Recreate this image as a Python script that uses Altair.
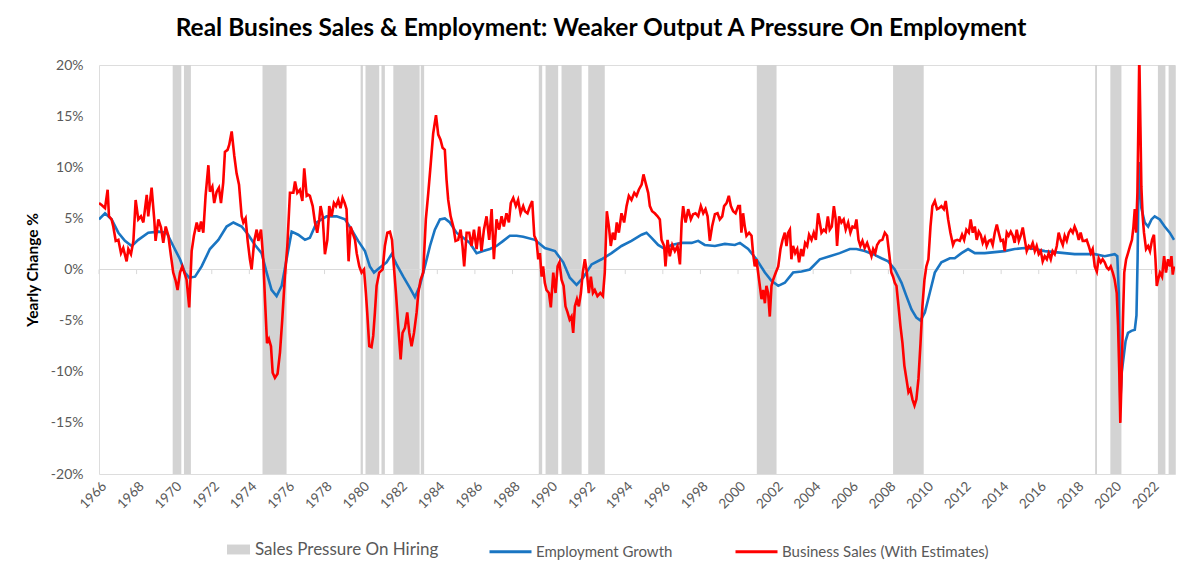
import altair as alt
import pandas as pd

TITLE = "Real Busines Sales & Employment: Weaker Output A Pressure On Employment"

# ---- Business Sales (With Estimates), yearly change %
sales_year = [
    1966.00, 1966.14, 1966.32, 1966.46, 1966.53, 1966.67, 1966.76, 1966.89, 1967.03, 1967.17,
    1967.29, 1967.47, 1967.56, 1967.70, 1967.83, 1967.95, 1968.09, 1968.23, 1968.36, 1968.54,
    1968.62, 1968.80, 1968.94, 1969.01, 1969.16, 1969.30, 1969.42, 1969.55, 1969.69, 1969.83,
    1969.95, 1970.08, 1970.18, 1970.31, 1970.43, 1970.54, 1970.66, 1970.80, 1970.93, 1971.05,
    1971.20, 1971.32, 1971.43, 1971.55, 1971.67, 1971.82, 1971.90, 1972.03, 1972.13, 1972.26,
    1972.38, 1972.49, 1972.61, 1972.70, 1972.84, 1972.93, 1973.06, 1973.20, 1973.32, 1973.45,
    1973.59, 1973.68, 1973.80, 1973.91, 1974.03, 1974.12, 1974.26, 1974.39, 1974.48, 1974.62,
    1974.74, 1974.83, 1974.94, 1975.04, 1975.15, 1975.24, 1975.36, 1975.50, 1975.63, 1975.75,
    1975.89, 1976.02, 1976.16, 1976.34, 1976.43, 1976.55, 1976.69, 1976.82, 1976.92, 1977.05,
    1977.14, 1977.22, 1977.37, 1977.49, 1977.61, 1977.72, 1977.79, 1977.90, 1978.02, 1978.15,
    1978.25, 1978.38, 1978.50, 1978.61, 1978.73, 1978.85, 1978.96, 1979.07, 1979.17, 1979.28,
    1979.39, 1979.49, 1979.62, 1979.71, 1979.85, 1979.97, 1980.10, 1980.20, 1980.27, 1980.38,
    1980.50, 1980.59, 1980.68, 1980.77, 1980.91, 1981.09, 1981.21, 1981.34, 1981.48, 1981.59,
    1981.69, 1981.80, 1981.92, 1982.05, 1982.15, 1982.28, 1982.40, 1982.51, 1982.63, 1982.76,
    1982.90, 1982.99, 1983.11, 1983.25, 1983.39, 1983.52, 1983.64, 1983.78, 1983.93, 1984.05,
    1984.17, 1984.28, 1984.40, 1984.49, 1984.58, 1984.71, 1984.85, 1984.97, 1985.11, 1985.24,
    1985.34, 1985.43, 1985.56, 1985.70, 1985.82, 1985.95, 1986.09, 1986.23, 1986.35, 1986.48,
    1986.62, 1986.76, 1986.89, 1987.01, 1987.15, 1987.29, 1987.42, 1987.54, 1987.68, 1987.81,
    1987.91, 1988.04, 1988.18, 1988.30, 1988.43, 1988.57, 1988.66, 1988.80, 1988.93, 1989.05,
    1989.16, 1989.28, 1989.37, 1989.46, 1989.55, 1989.63, 1989.72, 1989.81, 1989.94, 1990.04,
    1990.17, 1990.29, 1990.40, 1990.50, 1990.61, 1990.72, 1990.82, 1990.93, 1991.04, 1991.14,
    1991.23, 1991.32, 1991.43, 1991.53, 1991.64, 1991.74, 1991.85, 1991.96, 1992.06, 1992.17,
    1992.28, 1992.38, 1992.52, 1992.67, 1992.81, 1992.91, 1993.02, 1993.13, 1993.23, 1993.34,
    1993.45, 1993.55, 1993.66, 1993.80, 1993.94, 1994.07, 1994.19, 1994.33, 1994.48, 1994.60,
    1994.72, 1994.87, 1994.97, 1995.08, 1995.22, 1995.31, 1995.43, 1995.57, 1995.72, 1995.84,
    1995.93, 1996.07, 1996.14, 1996.25, 1996.37, 1996.50, 1996.64, 1996.78, 1996.91, 1997.00,
    1997.08, 1997.21, 1997.35, 1997.49, 1997.61, 1997.74, 1997.88, 1998.02, 1998.15, 1998.27,
    1998.38, 1998.50, 1998.62, 1998.77, 1998.91, 1999.03, 1999.16, 1999.26, 1999.39, 1999.51,
    1999.62, 1999.74, 1999.87, 2000.01, 2000.10, 2000.18, 2000.27, 2000.36, 2000.45, 2000.59,
    2000.72, 2000.80, 2000.89, 2000.98, 2001.07, 2001.16, 2001.25, 2001.34, 2001.43, 2001.51,
    2001.60, 2001.69, 2001.78, 2001.87, 2002.01, 2002.14, 2002.26, 2002.37, 2002.49, 2002.58,
    2002.67, 2002.76, 2002.84, 2002.93, 2003.04, 2003.15, 2003.25, 2003.36, 2003.46, 2003.57,
    2003.68, 2003.78, 2003.91, 2004.03, 2004.14, 2004.26, 2004.35, 2004.44, 2004.56, 2004.67,
    2004.78, 2004.88, 2004.99, 2005.10, 2005.20, 2005.27, 2005.38, 2005.50, 2005.62, 2005.73,
    2005.86, 2005.98, 2006.09, 2006.21, 2006.30, 2006.41, 2006.51, 2006.62, 2006.74, 2006.87,
    2006.98, 2007.10, 2007.19, 2007.30, 2007.40, 2007.54, 2007.68, 2007.81, 2007.93, 2008.04,
    2008.16, 2008.25, 2008.34, 2008.43, 2008.54, 2008.64, 2008.75, 2008.85, 2008.96, 2009.07,
    2009.17, 2009.28, 2009.39, 2009.49, 2009.60, 2009.71, 2009.81, 2009.92, 2010.02, 2010.13,
    2010.24, 2010.34, 2010.47, 2010.59, 2010.70, 2010.82, 2010.95, 2011.05, 2011.18, 2011.30,
    2011.44, 2011.53, 2011.67, 2011.80, 2011.92, 2012.03, 2012.15, 2012.28, 2012.38, 2012.49,
    2012.60, 2012.70, 2012.81, 2012.91, 2013.02, 2013.13, 2013.23, 2013.34, 2013.45, 2013.55,
    2013.66, 2013.77, 2013.87, 2013.98, 2014.09, 2014.19, 2014.30, 2014.40, 2014.51, 2014.62,
    2014.72, 2014.83, 2014.94, 2015.04, 2015.15, 2015.26, 2015.36, 2015.47, 2015.57, 2015.68,
    2015.79, 2015.89, 2016.00, 2016.11, 2016.21, 2016.32, 2016.43, 2016.53, 2016.64, 2016.74,
    2016.85, 2016.96, 2017.06, 2017.17, 2017.28, 2017.38, 2017.49, 2017.60, 2017.70, 2017.81,
    2017.91, 2018.02, 2018.13, 2018.23, 2018.34, 2018.45, 2018.55, 2018.66, 2018.77, 2018.87,
    2018.98, 2019.09, 2019.19, 2019.30, 2019.40, 2019.51, 2019.62, 2019.72, 2019.83, 2019.94,
    2020.04, 2020.15, 2020.22, 2020.29, 2020.34, 2020.41, 2020.48, 2020.55, 2020.65, 2020.75,
    2020.86, 2020.96, 2021.04, 2021.11, 2021.18, 2021.25, 2021.30, 2021.35, 2021.41, 2021.46,
    2021.53, 2021.60, 2021.71, 2021.82, 2021.92, 2022.03, 2022.13, 2022.21, 2022.28, 2022.35,
    2022.45, 2022.56, 2022.67, 2022.77, 2022.88, 2022.99, 2023.06, 2023.13, 2023.20,
]
sales_value = [
    6.5, 6.3, 6.0, 7.8, 5.2, 4.9, 4.2, 2.8, 2.9, 1.6,
    2.1, 0.8, 2.0, 1.5, 2.8, 6.8, 4.9, 5.2, 4.6, 7.3,
    5.2, 8.0, 4.9, 2.8, 4.9, 4.1, 2.6, 4.2, 3.3, 1.3,
    -0.3, -1.1, -2.0, -0.3, 0.3, -0.3, -1.0, -3.7, 1.8, 3.3,
    4.6, 3.7, 4.7, 3.6, 7.2, 10.2, 7.6, 8.1, 6.5, 7.6,
    8.0, 6.5, 8.5, 11.5, 11.7, 12.2, 13.5, 11.1, 9.4, 8.3,
    5.2, 4.6, 5.0, 2.8, 1.0, 0.0, 2.8, 3.9, 2.8, 3.9,
    1.0, -2.9, -7.2, -6.8, -7.5, -10.1, -10.6, -10.2, -8.1, -4.9,
    -0.7, 2.3, 7.5, 7.5, 8.6, 7.5, 7.8, 6.7, 9.9, 7.2,
    7.3, 7.2, 6.2, 4.6, 3.6, 4.9, 6.2, 5.2, 1.5, 2.9,
    6.2, 5.2, 6.5, 6.2, 6.8, 6.0, 7.0, 6.5, 5.9, 0.8,
    4.2, 3.6, 2.9, 1.6, 0.3, -0.3, 0.0, -2.3, -4.2, -7.5,
    -7.6, -6.5, -4.2, -1.6, -0.3, 0.0, 2.3, 3.6, 3.7, 2.9,
    0.3, -2.3, -5.5, -8.8, -6.2, -5.7, -4.2, -6.2, -7.5, -6.2,
    -4.2, -2.3, -1.0, -0.3, 4.9, 7.5, 10.1, 13.3, 15.1, 13.2,
    12.7, 11.9, 11.7, 8.8, 6.8, 5.2, 4.2, 2.8, 2.9, 3.9,
    2.3, 0.3, 3.6, 3.6, 2.3, 3.9, 2.0, 4.2, 1.8, 3.9,
    5.2, 2.9, 5.9, 1.0, 4.9, 3.9, 5.2, 4.2, 5.5, 4.6,
    6.5, 7.0, 6.2, 6.8, 5.5, 6.2, 5.7, 5.5, 6.2, 6.7,
    3.3, 2.8, 1.0, 1.6, -0.7, 0.3, -1.3, -2.0, -2.3, -3.7,
    -0.3, -2.3, 0.3, 0.7, -1.0, -1.6, -3.6, -4.2, -4.9, -4.6,
    -6.2, -3.6, -2.9, -3.6, -2.3, -0.3, 1.0, -0.3, -2.3, -0.7,
    -2.3, -2.0, -2.6, -2.3, -2.6, -0.3, 5.7, 4.2, 2.3, 3.6,
    2.9, 4.6, 3.6, 5.5, 4.6, 6.2, 7.2, 6.8, 7.5, 7.2,
    7.8, 8.3, 9.3, 8.5, 7.5, 6.2, 5.7, 5.5, 5.2, 4.9,
    2.9, 2.3, 0.3, 2.9, 1.3, 2.4, 1.8, 2.3, 0.5, 4.6,
    6.2, 4.6, 5.9, 4.9, 5.4, 5.5, 5.2, 6.2, 5.5, 5.9,
    5.2, 2.8, 4.2, 5.4, 5.5, 4.9, 5.2, 6.2, 6.5, 7.2,
    6.2, 5.7, 5.5, 6.2, 6.2, 3.6, 5.5, 4.2, 3.3, 3.6,
    3.3, 1.6, 0.3, 1.0, -0.3, -1.6, -2.9, -2.0, -3.3, -1.6,
    -2.3, -4.6, -1.6, -1.0, -0.3, 0.3, 2.0, 2.9, 3.6, 2.3,
    3.6, 3.9, 1.0, 2.3, 1.6, 2.0, 0.7, 2.0, 1.3, 2.6,
    2.3, 3.4, 2.9, 3.6, 2.9, 5.5, 4.6, 3.6, 3.9, 3.7,
    5.2, 3.9, 4.2, 6.2, 4.9, 2.3, 5.2, 4.6, 4.9, 3.9,
    4.6, 3.6, 4.2, 4.1, 4.9, 2.9, 2.3, 2.8, 2.1, 2.6,
    2.0, 1.3, 2.0, 1.6, 2.4, 2.8, 2.9, 3.6, 3.3, 1.6,
    -0.3, -0.7, -1.3, -1.6, -3.6, -5.5, -7.2, -9.4, -10.7, -12.0,
    -11.7, -12.7, -13.3, -12.7, -10.7, -7.2, -3.6, -1.0, 0.3, 1.0,
    4.2, 6.2, 6.7, 5.9, 6.0, 6.2, 5.9, 6.7, 4.9, 3.6,
    2.4, 2.8, 2.9, 2.8, 3.4, 2.9, 3.9, 3.6, 4.9, 3.6,
    4.2, 2.9, 3.7, 3.4, 2.6, 3.1, 2.3, 2.8, 2.9, 2.4,
    3.6, 4.4, 3.6, 2.8, 2.9, 1.8, 3.6, 3.3, 3.7, 3.3,
    2.6, 3.9, 2.8, 3.3, 4.1, 2.9, 1.8, 2.3, 2.1, 2.6,
    1.8, 2.3, 1.5, 1.8, 0.8, 1.3, 1.0, 1.6, 1.0, 1.8,
    1.5, 2.3, 3.6, 2.9, 2.4, 3.3, 2.8, 3.6, 3.9, 3.6,
    4.2, 3.7, 2.9, 3.6, 2.8, 2.8, 2.9, 2.3, 1.6, 2.0,
    0.3, -0.2, 1.1, 0.7, 1.0, 0.7, 0.2, 0.0, 0.3, -0.3,
    -1.0, -2.3, -5.5, -10.4, -15.0, -10.4, -4.9, -0.3, 1.0, 1.6,
    2.3, 2.9, 4.2, 5.9, 3.6, 7.5, 14.0, 21.0, 14.0, 8.1,
    5.2, 3.6, 2.0, 2.3, 1.8, 2.9, 3.4, 1.0, -1.6, -1.0,
    -0.3, -0.7, 1.3, -0.3, 1.0, 0.3, 1.3, -0.5, 0.3,
]

# ---- Employment Growth, yearly change %
emp_year = [
    1966.00, 1966.32, 1966.67, 1967.03, 1967.38, 1967.74, 1968.09, 1968.62, 1969.16, 1969.60,
    1969.95, 1970.31, 1970.57, 1970.80, 1971.11, 1971.46, 1971.90, 1972.35, 1972.79, 1973.15,
    1973.59, 1973.94, 1974.30, 1974.65, 1974.92, 1975.18, 1975.45, 1975.72, 1975.98, 1976.25,
    1976.60, 1976.96, 1977.22, 1977.58, 1978.11, 1978.64, 1979.09, 1979.44, 1979.79, 1980.15,
    1980.41, 1980.63, 1980.95, 1981.30, 1981.57, 1981.83, 1982.19, 1982.54, 1982.81, 1983.07,
    1983.34, 1983.61, 1983.87, 1984.14, 1984.40, 1984.67, 1985.02, 1985.38, 1985.73, 1986.09,
    1986.44, 1986.80, 1987.15, 1987.51, 1987.86, 1988.22, 1988.57, 1989.19, 1989.72, 1990.26,
    1990.70, 1991.05, 1991.41, 1991.76, 1992.21, 1992.74, 1993.27, 1993.80, 1994.33, 1994.87,
    1995.13, 1995.40, 1995.75, 1996.11, 1996.46, 1997.00, 1997.53, 1997.88, 1998.23, 1998.77,
    1999.30, 1999.83, 2000.10, 2000.54, 2000.98, 2001.43, 2001.78, 2002.14, 2002.49, 2002.93,
    2003.38, 2003.82, 2004.35, 2004.88, 2005.41, 2005.95, 2006.30, 2006.74, 2007.19, 2007.63,
    2007.99, 2008.34, 2008.70, 2008.96, 2009.23, 2009.49, 2009.71, 2009.94, 2010.20, 2010.47,
    2010.82, 2011.27, 2011.53, 2011.89, 2012.24, 2012.60, 2013.13, 2013.66, 2014.19, 2014.72,
    2015.26, 2015.79, 2016.32, 2016.85, 2017.38, 2017.91, 2018.45, 2018.98, 2019.51, 2020.04,
    2020.18, 2020.26, 2020.34, 2020.42, 2020.50, 2020.62, 2020.75, 2020.93, 2021.11, 2021.20,
    2021.26, 2021.32, 2021.37, 2021.46, 2021.64, 2021.82, 2022.00, 2022.17, 2022.44, 2022.70,
    2022.97, 2023.20,
]
emp_value = [
    4.9, 5.5, 4.9, 3.6, 2.8, 2.3, 2.9, 3.6, 3.7, 3.6,
    2.3, 1.0, -0.3, -0.8, -0.7, 0.3, 2.0, 2.9, 4.2, 4.6,
    4.2, 3.4, 2.4, 1.6, -0.3, -2.0, -2.6, -1.6, 1.0, 3.7,
    3.4, 2.9, 3.1, 4.6, 5.2, 5.2, 4.9, 3.9, 2.8, 1.8,
    0.3, -0.3, 0.2, 0.7, 1.5, 0.5, -0.7, -1.8, -2.7, -1.6,
    0.3, 2.3, 3.9, 4.9, 5.0, 4.6, 3.6, 3.1, 2.6, 1.6,
    1.8, 2.0, 2.3, 2.8, 3.3, 3.3, 3.2, 2.9, 2.1, 1.8,
    0.7, -0.8, -1.5, -0.8, 0.5, 1.0, 1.6, 2.3, 2.8, 3.4,
    3.6, 3.1, 2.4, 2.0, 2.4, 2.6, 2.6, 2.8, 2.4, 2.3,
    2.5, 2.4, 2.6, 2.0, 1.0, -0.3, -1.1, -1.6, -1.3, -0.3,
    -0.2, 0.0, 1.0, 1.3, 1.6, 2.0, 2.0, 1.8, 1.5, 1.1,
    0.8, 0.0, -1.3, -2.6, -3.9, -4.7, -5.0, -4.2, -2.3, -0.3,
    0.7, 1.1, 1.1, 1.6, 2.0, 1.6, 1.6, 1.7, 1.8, 2.0,
    2.1, 2.0, 1.8, 1.7, 1.6, 1.5, 1.5, 1.5, 1.3, 1.5,
    1.3, -2.3, -13.0, -10.0, -8.8, -7.0, -6.2, -6.0, -5.9, -4.5,
    1.0, 10.5, 9.5, 6.0, 4.6, 4.2, 4.9, 5.2, 4.9, 4.2,
    3.6, 2.9,
]

# ---- Sales Pressure On Hiring periods
band_start = [1969.92, 1970.52, 1974.70, 1979.92, 1980.18, 1981.03, 1981.66, 1983.12, 1989.40,
              1989.76, 1990.61, 1992.03, 2001.00, 2008.25, 2019.00, 2019.81, 2022.34, 2022.91]
band_end = [1970.38, 1970.89, 1975.98, 1980.04, 1980.91, 1981.21, 1983.06, 1983.30, 1989.58,
            1990.43, 1991.68, 1992.91, 2002.05, 2009.88, 2019.10, 2020.40, 2022.74, 2023.25]

tick_years = list(range(1966, 2023, 2))
y_ticks = [-20, -15, -10, -5, 0, 5, 10, 15, 20]

S_BAND = "Sales Pressure On Hiring"
S_EMP = "Employment Growth"
S_SALES = "Business Sales (With Estimates)"

FONT = "Lato"
GREY_TXT = "#595959"

bands = pd.DataFrame({"start": band_start, "end": band_end, "label": S_BAND})
emp = pd.DataFrame({"year": emp_year, "value": emp_value, "series": S_EMP})
sales = pd.DataFrame({"year": sales_year, "value": sales_value, "series": S_SALES})
ticks = pd.DataFrame({"year": tick_years})

x_scale = alt.Scale(domain=[1966, 2023.25], nice=False, zero=False)
y_scale = alt.Scale(domain=[-20, 20], nice=False)

x_axis = alt.Axis(values=tick_years, format="d", labelAngle=315, labelOverlap=False,
                  grid=False, domain=False, ticks=False, labelPadding=5, labelFontSize=13.5,
                  labelColor=GREY_TXT, labelFont=FONT, title=None)
y_axis = alt.Axis(values=y_ticks, labelExpr="datum.value + '%'", grid=False, domain=False,
                  ticks=False, labelPadding=16, labelFontSize=14, labelColor=GREY_TXT,
                  labelFont=FONT, title="Yearly Change %", titleFont=FONT, titleFontSize=15.5,
                  titleFontWeight="bold", titleColor="#000000", titlePadding=10)

band_layer = alt.Chart(bands).mark_rect(opacity=1).encode(
    x=alt.X("start:Q", scale=x_scale, axis=x_axis),
    x2="end:Q",
    y=alt.datum(20, scale=y_scale, axis=y_axis),
    y2=alt.datum(-20),
    fill=alt.Fill("label:N", title=None,
                  scale=alt.Scale(domain=[S_BAND], range=["#d3d3d3"]),
                  legend=alt.Legend(orient="none", legendX=128, legendY=473,
                                    symbolType="M-1,-0.43H1V0.43H-1Z", symbolSize=529,
                                    symbolStrokeWidth=0, labelFont=FONT, labelFontSize=17,
                                    labelColor=GREY_TXT, labelOffset=5, labelLimit=400)),
)

zero_layer = alt.Chart(ticks).mark_rule(color="#d9d9d9", strokeWidth=1).encode(
    y=alt.datum(0),
)

tick_layer = alt.Chart(ticks).mark_rule(color="#d9d9d9", strokeWidth=1).encode(
    x=alt.X("year:Q", axis=x_axis),
    y=alt.datum(0),
    y2=alt.datum(-0.45),
)

color_scale = alt.Scale(domain=[S_EMP, S_SALES], range=["#1a75c2", "#ff0000"])
line_legend = alt.Legend(orient="none", legendX=389, legendY=464, direction="horizontal",
                         symbolType="stroke", symbolSize=1764, symbolStrokeWidth=3,
                         labelFont=FONT, labelFontSize=15, labelColor=GREY_TXT,
                         labelOffset=3, columnPadding=56, labelLimit=400)

emp_layer = alt.Chart(emp).mark_line(strokeWidth=2.6, clip=True).encode(
    x=alt.X("year:Q", axis=x_axis),
    y=alt.Y("value:Q"),
    color=alt.Color("series:N", scale=color_scale, legend=line_legend, title=None),
)

sales_layer = alt.Chart(sales).mark_line(strokeWidth=2.6, clip=True).encode(
    x=alt.X("year:Q", axis=x_axis),
    y=alt.Y("value:Q"),
    color=alt.Color("series:N", scale=color_scale, legend=line_legend, title=None),
)

chart = alt.layer(band_layer, zero_layer, tick_layer, emp_layer, sales_layer).properties(
    width=1076,
    height=409,
    title=alt.TitleParams(TITLE, font=FONT, fontSize=24.5, fontWeight="bold", color="#000000",
                          anchor="middle", dx=-36, offset=17),
    autosize=alt.AutoSizeParams(type="none"),
    padding={"left": 91, "top": 57, "right": 17, "bottom": 90},
).configure_view(stroke=None).configure_axisX(labelOverlap=False).configure(background="#ffffff")

chart.save("out.html", embed_options={"renderer": "svg", "actions": False})
